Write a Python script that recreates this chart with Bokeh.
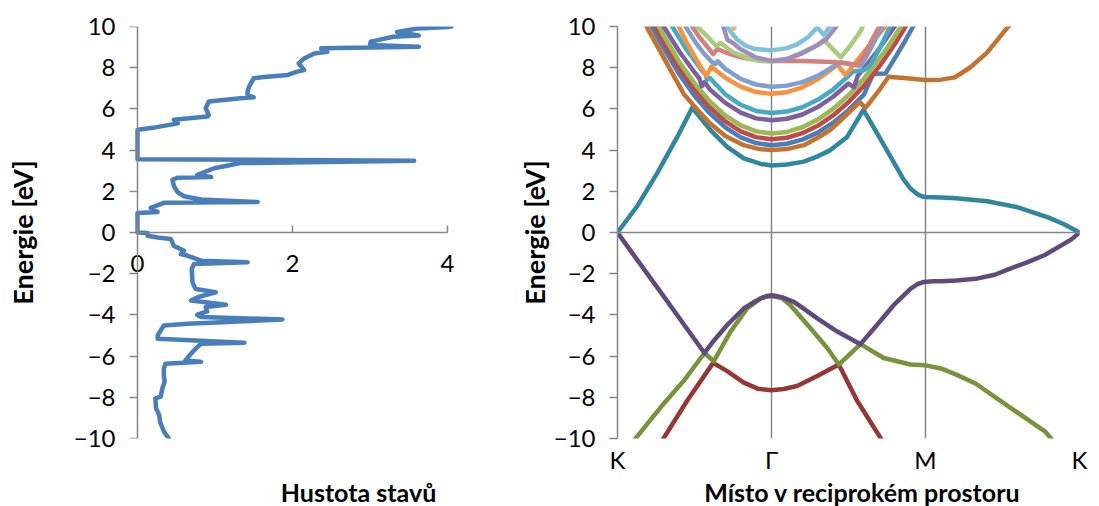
from bokeh.plotting import figure
from bokeh.layouts import row, column
from bokeh.models import FixedTicker, Span, Range1d, LinearAxis
from bokeh.core.properties import value
from bokeh.embed import file_html
from bokeh.resources import INLINE

# ---------------- tick values, labels, titles ----------------
energy_ticks = [-10, -8, -6, -4, -2, 0, 2, 4, 6, 8, 10]
dos_ticks = [0, 2, 4]
kpath_ticks = [0, 1, 2, 3]
kpath_labels = ["K", "Γ", "M", "K"]
energy_title = "Energie [eV]"
x_titles = ["Hustota stavů", "Místo v reciprokém prostoru"]

# ---------------- density of states (energy in eV -> DOS) ----------------
dos_energy = [-10.14, -9.66, -9.18, -8.86, -8.54, -8.05, -7.97, -7.57, -7.25, -6.93,
              -6.6, -6.37, -6.28, -6.2, -5.88, -5.64, -5.4, -5.35, -5.16, -5.0,
              -4.51, -4.43, -4.22, -4.1, -3.99, -3.83, -3.62, -3.51, -3.3, -3.15,
              -2.9, -2.74, -2.42, -1.77, -1.53, -1.45, -1.37, -1.13, -1.05, -0.89,
              -0.81, -0.65, -0.32, -0.24, -0.16, -0.02, 0.0, 0.95, 1.0, 1.2,
              1.44, 1.48, 1.6, 1.76, 1.95, 2.25, 2.56, 2.66, 2.69, 2.8,
              3.12, 3.37, 3.48, 3.56, 4.99, 5.08, 5.15, 5.25, 5.3, 5.47,
              5.63, 5.7, 6.03, 6.36, 6.52, 6.56, 6.68, 6.85, 7.08, 7.49,
              7.54, 7.65, 7.81, 7.89, 8.21, 8.45, 8.69, 8.77, 8.94, 9.02,
              9.1, 9.26, 9.34, 9.5, 9.56, 9.73, 9.9, 9.98, 10.0]
dos_value = [0.43, 0.34, 0.29, 0.28, 0.24, 0.23, 0.30, 0.32, 0.35, 0.34,
             0.34, 0.36, 0.82, 0.62, 0.69, 0.75, 0.82, 1.38, 0.26, 0.26,
             0.34, 0.65, 1.87, 0.82, 0.77, 0.90, 0.88, 1.14, 0.69, 0.77,
             1.01, 0.75, 0.71, 0.70, 0.73, 1.42, 0.82, 0.65, 0.56, 0.60,
             0.56, 0.47, 0.43, 0.26, 0.13, 0.13, 0.0, 0.0, 0.26, 0.17,
             0.34, 1.55, 0.82, 0.60, 0.52, 0.47, 0.45, 0.52, 0.95, 0.77,
             0.99, 1.33, 3.57, 0.0, 0.0, 0.2, 0.3, 0.45, 0.52, 0.47,
             0.90, 0.92, 0.88, 0.92, 1.33, 1.50, 1.42, 1.42, 1.44, 1.50,
             1.60, 1.94, 2.06, 2.15, 2.08, 2.15, 2.28, 2.45, 2.37, 3.63,
             3.00, 3.01, 3.10, 3.30, 3.63, 3.35, 3.61, 4.00, 4.05]

# ---------------- band structure along K-Γ-M-K ----------------
# path coordinate: 0 = K, 1 = Γ, 2 = M, 3 = K ; energies in eV
blue_k = [0.20, 0.225, 0.30, 0.40, 0.50, 0.60, 0.70, 0.80, 0.90, 1.00, 1.10, 1.20,
          1.30, 1.40, 1.50, 1.60, 1.66, 1.74, 1.80, 1.86, 1.92, 1.95]
blue_e = [10.4, 9.95, 8.94, 7.7, 6.64, 5.78, 5.1, 4.62, 4.34, 4.24, 4.31, 4.51,
          4.85, 5.33, 5.94, 6.69, 7.69, 7.72, 8.45, 9.2, 10.0, 10.4]

red_k = [0.22, 0.247, 0.30, 0.40, 0.50, 0.60, 0.70, 0.80, 0.90, 1.00, 1.10, 1.20,
         1.30, 1.40, 1.50, 1.60, 1.70, 1.80, 1.87, 1.90]
red_e = [10.4, 9.97, 9.23, 7.99, 6.93, 6.07, 5.39, 4.91, 4.63, 4.53, 4.6, 4.82,
         5.18, 5.68, 6.33, 7.12, 8.06, 9.14, 9.98, 10.4]

green_k = [0.24, 0.268, 0.30, 0.40, 0.50, 0.60, 0.70, 0.80, 0.90, 1.00, 1.10, 1.20,
           1.30, 1.40, 1.50, 1.60, 1.70, 1.76, 1.84, 1.87]
green_e = [10.4, 10.0, 9.56, 8.3, 7.24, 6.36, 5.68, 5.2, 4.91, 4.81, 4.88, 5.11,
           5.48, 6.0, 6.66, 7.47, 8.44, 9.05, 10.0, 10.4]

purple_k = [0.27, 0.30, 0.40, 0.50, 0.53, 0.548, 0.566, 0.60, 0.70, 0.80, 0.90, 1.00,
            1.10, 1.20, 1.30, 1.40, 1.50, 1.535, 1.56, 1.60, 1.70, 1.80, 1.83]
purple_e = [10.4, 10.0, 8.8, 7.78, 7.5, 7.1, 7.3, 6.94, 6.29, 5.82, 5.54, 5.45,
            5.52, 5.73, 6.09, 6.59, 7.23, 7.05, 7.6, 7.97, 8.93, 10.0, 10.4]

aqua_k = [0.33, 0.355, 0.45, 0.55, 0.57, 0.582, 0.60, 0.70, 0.80, 0.90, 1.00, 1.10,
          1.20, 1.30, 1.40, 1.49, 1.53, 1.60, 1.64, 1.70, 1.77, 1.80]
aqua_e = [10.4, 10.0, 8.86, 7.85, 7.7, 7.42, 7.5, 6.71, 6.2, 5.9, 5.8, 5.87,
          6.08, 6.44, 6.94, 7.53, 7.82, 7.88, 8.1, 8.9, 10.0, 10.4]

orange_k = [0.37, 0.398, 0.45, 0.50, 0.54, 0.578, 0.61, 0.70, 0.80, 0.90, 1.00, 1.10,
            1.20, 1.30, 1.38, 1.427, 1.48, 1.52, 1.60, 1.67, 1.74, 1.77]
orange_e = [10.4, 10.0, 9.2, 8.55, 8.05, 7.6, 8.05, 7.51, 7.08, 6.82, 6.73, 6.81,
            7.05, 7.44, 7.87, 8.15, 7.65, 8.0, 8.75, 9.4, 10.0, 10.4]

dark_red_k = [0.27, 0.29, 0.452, 0.621, 0.712, 0.82, 0.91, 1.00, 1.08, 1.166, 1.297,
              1.437, 1.556, 1.719, 1.74]
dark_red_e = [-10.5, -10.1, -8.17, -6.33, -6.73, -7.29, -7.58, -7.66, -7.6, -7.45, -6.97,
              -6.41, -8.17, -10.1, -10.4]

dark_green_k = [0.08, 0.106, 0.279, 0.43, 0.565, 0.625, 0.734, 0.842, 0.93, 0.965, 1.00,
                1.035, 1.07, 1.123, 1.253, 1.362, 1.437, 1.578, 1.729, 1.903, 2.00, 2.10,
                2.20, 2.325, 2.55, 2.775, 2.85]
dark_green_e = [-10.6, -10.1, -8.5, -7.2, -5.85, -6.25, -4.81, -3.69, -3.2, -3.12, -3.1,
                -3.13, -3.2, -3.53, -4.65, -5.61, -6.41, -5.42, -6.09, -6.41, -6.45, -6.6,
                -6.9, -7.33, -8.5, -9.65, -10.3]

dark_purple_k = [0.0, 0.1, 0.2, 0.3, 0.4, 0.5, 0.565, 0.62, 0.712, 0.82, 0.88, 0.93,
                 0.97, 1.00, 1.03, 1.07, 1.145, 1.20, 1.297, 1.427, 1.578, 1.685, 1.793,
                 1.904, 1.95, 1.99, 2.05, 2.10, 2.20, 2.325, 2.45, 2.55, 2.66, 2.775,
                 2.89, 2.95, 3.0]
dark_purple_e = [0.0, -1.04, -2.07, -3.1, -4.14, -5.18, -5.85, -5.3, -4.49, -3.69, -3.4, -3.2,
                 -3.08, -3.05, -3.08, -3.15, -3.37, -3.65, -4.17, -4.81, -5.42, -4.49, -3.53,
                 -2.73, -2.5, -2.4, -2.37, -2.37, -2.33, -2.25, -2.05, -1.75, -1.45, -1.09,
                 -0.59, -0.32, 0.0]

dark_aqua_k = [0.0, 0.128, 0.258, 0.388, 0.485, 0.604, 0.712, 0.82, 0.93, 1.00, 1.10,
               1.21, 1.30, 1.383, 1.491, 1.597, 1.686, 1.773, 1.859, 1.90, 1.95, 1.975,
               2.00, 2.10, 2.20, 2.40, 2.60, 2.80, 2.90, 3.0]
dark_aqua_e = [0.0, 1.28, 2.88, 4.64, 6.05, 4.97, 4.16, 3.6, 3.33, 3.25, 3.3,
               3.44, 3.7, 4.0, 4.64, 5.95, 4.81, 3.68, 2.56, 2.15, 1.85, 1.76,
               1.72, 1.70, 1.66, 1.52, 1.22, 0.72, 0.4, 0.0]

dark_orange_k = [0.15, 0.193, 0.323, 0.43, 0.49, 0.60, 0.70, 0.82, 0.92, 1.00, 1.10,
                 1.21, 1.30, 1.38, 1.45, 1.52, 1.573, 1.61, 1.69, 1.76, 1.86, 2.00,
                 2.10, 2.19, 2.29, 2.40, 2.53, 2.60]
dark_orange_e = [10.7, 9.93, 8.17, 6.73, 6.2, 5.3, 4.68, 4.24, 4.05, 4.0, 4.05,
                 4.24, 4.6, 4.97, 5.45, 5.95, 6.33, 6.05, 6.81, 7.56, 7.5, 7.4,
                 7.42, 7.53, 8.01, 8.73, 9.93, 10.5]

light_blue_k = [0.42, 0.442, 0.50, 0.56, 0.61, 0.635, 0.65, 0.70, 0.80, 0.90, 1.00,
                1.10, 1.20, 1.30, 1.40, 1.45, 1.52, 1.58, 1.62, 1.67, 1.72, 1.75]
light_blue_e = [10.4, 10.0, 9.3, 8.7, 8.3, 8.18, 8.32, 7.94, 7.46, 7.18, 7.08,
                7.13, 7.3, 7.6, 8.05, 8.25, 8.15, 8.1, 8.6, 9.3, 10.0, 10.4]

light_red_k = [0.46, 0.485, 0.53, 0.58, 0.62, 0.65, 0.70, 0.80, 0.90, 1.00, 1.10,
               1.20, 1.30, 1.40, 1.50, 1.56, 1.60, 1.65, 1.70, 1.73]
light_red_e = [10.4, 10.0, 9.5, 9.05, 8.66, 8.9, 8.75, 8.5, 8.37, 8.33, 8.33,
               8.32, 8.3, 8.28, 8.2, 8.12, 8.6, 9.3, 10.0, 10.4]

light_green_k = [0.50, 0.517, 0.58, 0.64, 0.67, 0.75, 0.85, 0.93, 1.00, 1.10, 1.20,
                 1.30, 1.34, 1.45, 1.52, 1.58, 1.61]
light_green_e = [10.3, 10.0, 9.55, 9.05, 9.2, 8.75, 8.45, 8.33, 8.3, 8.42, 8.75,
                 9.1, 9.35, 8.5, 9.15, 9.8, 10.3]

light_purple_k = [0.67, 0.688, 0.712, 0.75, 0.80, 0.90, 1.00, 1.10, 1.20, 1.30, 1.357,
                  1.42, 1.45]
light_purple_e = [10.3, 10.0, 9.37, 9.2, 8.9, 8.5, 8.33, 8.42, 8.7, 9.1, 9.4,
                  10.0, 10.4]

light_aqua_k = [0.70, 0.712, 0.745, 0.777, 0.83, 0.885, 1.00, 1.10, 1.167, 1.24, 1.297,
                1.34, 1.40, 1.42]
light_aqua_e = [10.3, 10.0, 9.65, 9.37, 9.08, 8.92, 8.84, 8.95, 9.13, 9.5, 9.95,
                9.6, 10.2, 10.4]

light_orange_k = [0.735, 0.755, 0.775]
light_orange_e = [10.3, 9.9, 10.3]

# ---------------- styling ----------------
FONT = "Lato"
GRAY = "#868686"
TICK_SIZE = "24px"
Y_TITLE_SIZE = "27px"
X_TITLE_SIZE = "25px"
LINE_W = 4.5
DOS_PX_PER_UNIT = 77.5
MAIN_H = 476          # height of the two chart panels
STRIP_H = 30          # height of the strip carrying the horizontal titles

band_styles = [
    (blue_k, blue_e, "#4A7EBB"),
    (red_k, red_e, "#BE4B48"),
    (green_k, green_e, "#98B954"),
    (purple_k, purple_e, "#7D60A0"),
    (aqua_k, aqua_e, "#46AAC5"),
    (orange_k, orange_e, "#F69240"),
    (dark_red_k, dark_red_e, "#953735"),
    (dark_green_k, dark_green_e, "#77933C"),
    (dark_purple_k, dark_purple_e, "#604A7B"),
    (dark_aqua_k, dark_aqua_e, "#31859C"),
    (dark_orange_k, dark_orange_e, "#C3732F"),
    (light_blue_k, light_blue_e, "#7E9FCF"),
    (light_red_k, light_red_e, "#D3807E"),
    (light_green_k, light_green_e, "#AACB7B"),
    (light_purple_k, light_purple_e, "#A08DBF"),
    (light_aqua_k, light_aqua_e, "#7DC2D8"),
    (light_orange_k, light_orange_e, "#F9A964"),
]


def tick_text(ax, standoff):
    ax.major_label_text_font = FONT
    ax.major_label_text_font_size = TICK_SIZE
    ax.major_label_text_color = "black"
    ax.major_label_standoff = standoff
    ax.minor_tick_line_color = None


def energy_title_style(ax, standoff):
    ax.axis_label = energy_title
    ax.axis_label_text_font = FONT
    ax.axis_label_text_font_style = "bold"
    ax.axis_label_text_font_size = Y_TITLE_SIZE
    ax.axis_label_text_color = "black"
    ax.axis_label_standoff = standoff


def clean(p):
    p.outline_line_color = None
    p.background_fill_color = "white"
    p.border_fill_color = "white"


# ---------------- left panel: density of states ----------------
# the frame reaches a little past x = 0 and x = 4 so the crossing axes and
# their end labels are drawn whole
left_pad, right_pad = 17, 23
p1 = figure(width=480, height=MAIN_H,
            x_range=Range1d(-left_pad / DOS_PX_PER_UNIT, 4 + right_pad / DOS_PX_PER_UNIT),
            y_range=Range1d(-10, 10),
            output_backend="svg", toolbar_location=None,
            min_border_left=120, min_border_right=10, min_border_top=26,
            min_border_bottom=MAIN_H - 441)
clean(p1)
p1.grid.visible = False

p1.line(dos_value, dos_energy, line_width=LINE_W, color="#4A7EBB",
        line_join="round", line_cap="round")

# horizontal axis crossing at E = 0
xa = p1.xaxis[0]
xa.fixed_location = 0
xa.bounds = (0, 4)
xa.ticker = FixedTicker(ticks=dos_ticks)
tick_text(xa, 22)
xa.axis_line_color = GRAY
xa.axis_line_width = 1.5
xa.major_tick_line_color = GRAY
xa.major_tick_line_width = 1.5
xa.major_tick_in = 7
xa.major_tick_out = 0

# outer energy axis: tick labels and title only
ya = p1.yaxis[0]
ya.ticker = FixedTicker(ticks=energy_ticks)
tick_text(ya, 5)
ya.axis_line_color = None
ya.major_tick_line_color = None
ya.major_tick_out = 0
ya.major_tick_in = 0
energy_title_style(ya, 32)

# energy axis line and tick marks at DOS = 0
ya0 = LinearAxis(fixed_location=0, ticker=FixedTicker(ticks=energy_ticks))
ya0.major_label_text_color = None
ya0.axis_line_color = GRAY
ya0.axis_line_width = 1.5
ya0.major_tick_line_color = GRAY
ya0.major_tick_line_width = 1.5
ya0.major_tick_out = 8
ya0.major_tick_in = 0
ya0.minor_tick_line_color = None
p1.add_layout(ya0, "left")

# ---------------- right panel: band structure ----------------
p2 = figure(width=619, height=MAIN_H, x_range=Range1d(0, 3), y_range=Range1d(-10, 10),
            output_backend="svg", toolbar_location=None,
            min_border_left=137, min_border_right=20, min_border_top=26,
            min_border_bottom=MAIN_H - 441)
clean(p2)
p2.ygrid.visible = False
p2.xgrid.ticker = FixedTicker(ticks=kpath_ticks[1:])
p2.xgrid.grid_line_color = GRAY
p2.xgrid.grid_line_width = 1.5

p2.add_layout(Span(location=0, dimension="width", line_color=GRAY, line_width=1.5))

for ks, es, col in band_styles:
    p2.line(ks, es, line_width=LINE_W, color=col, line_join="round", line_cap="round")

xb = p2.xaxis[0]
xb.ticker = FixedTicker(ticks=kpath_ticks)
xb.major_label_overrides = {k: lab for k, lab in zip(kpath_ticks, kpath_labels)}
tick_text(xb, 6)
xb.axis_line_color = None
xb.major_tick_line_color = None
xb.major_tick_out = 0
xb.major_tick_in = 0

yb = p2.yaxis[0]
yb.ticker = FixedTicker(ticks=energy_ticks)
tick_text(yb, 14)
yb.axis_line_color = GRAY
yb.axis_line_width = 1.5
yb.major_tick_line_color = GRAY
yb.major_tick_line_width = 1.5
yb.major_tick_out = 8
yb.major_tick_in = 0
energy_title_style(yb, 0)

# ---------------- strip with the horizontal axis titles ----------------
strip = figure(width=1099, height=STRIP_H, x_range=Range1d(0, 1099), y_range=Range1d(0, STRIP_H),
               output_backend="svg", toolbar_location=None,
               x_axis_location=None, y_axis_location=None, min_border=0)
clean(strip)
strip.grid.visible = False
strip.text(x=[358, 862], y=[15, 15], text=x_titles,
           text_font=value(FONT), text_font_style="bold", text_font_size=X_TITLE_SIZE,
           text_align="center", text_baseline="middle", text_color="black")

layout = column(row(p1, p2), strip)
open("out.html", "w").write(file_html(layout, INLINE))
